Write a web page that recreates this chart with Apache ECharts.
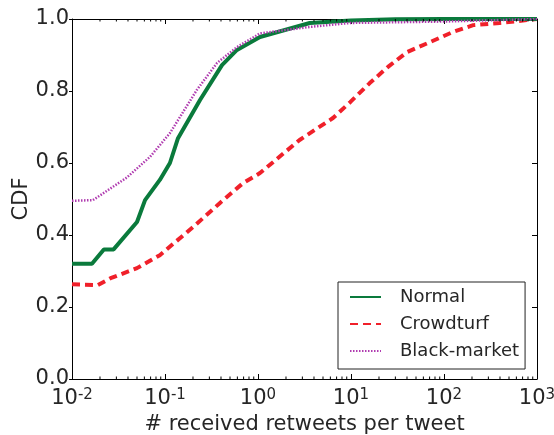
<!DOCTYPE html>
<html><head><meta charset="utf-8">
<script src="https://cdn.jsdelivr.net/npm/echarts@6/dist/echarts.min.js"></script>
<style>html,body{margin:0;padding:0;background:#fff}#c{width:554px;height:435px}</style>
</head><body><div id="c"></div>
<script>
var normalX = [0.01, 0.0164, 0.022, 0.028, 0.05, 0.061, 0.088, 0.113, 0.138, 0.238, 0.41, 0.594, 1.05, 3.6, 10, 30, 100, 1000];
var normalY = [0.32, 0.32, 0.36, 0.36, 0.436, 0.497, 0.553, 0.6, 0.669, 0.775, 0.872, 0.914, 0.95, 0.989, 0.996, 0.999, 1.0, 1.0];
var crowdX = [0.01, 0.019, 0.026, 0.05, 0.088, 0.2, 0.39, 0.69, 1.05, 2.8, 6.4, 9.8, 15.9, 25, 40, 71, 125, 206, 398, 776, 1000];
var crowdY = [0.263, 0.261, 0.28, 0.308, 0.344, 0.422, 0.489, 0.544, 0.572, 0.664, 0.725, 0.769, 0.822, 0.867, 0.908, 0.936, 0.964, 0.983, 0.989, 0.997, 1.0];
var blackX = [0.01, 0.0168, 0.019, 0.039, 0.069, 0.113, 0.22, 0.363, 0.594, 1.05, 3.6, 9.8, 100, 1000];
var blackY = [0.495, 0.497, 0.506, 0.56, 0.617, 0.683, 0.803, 0.878, 0.922, 0.96, 0.978, 0.989, 0.993, 1.0];
var seriesNames = ['Normal', 'Crowdturf', 'Black-market'];
var minorTicks = [];
[0.01, 0.1, 1, 10, 100].forEach(function (d) { for (var k = 2; k <= 9; k++) minorTicks.push(+(d * k).toPrecision(3)); });

function zip(xs, ys) { return xs.map(function (x, i) { return [x, ys[i]]; }); }
var FONT = 'DejaVu Sans';
var TXT = '#262626';
var chart = echarts.init(document.getElementById('c'), null, {renderer: 'canvas'});
var axLine = {show: true, onZero: false, lineStyle: {color: '#000', width: 1}};
chart.setOption({
  backgroundColor: '#fff',
  animation: false,
  textStyle: {fontFamily: FONT},
  grid: {left: 72, right: 17, top: 19, bottom: 56, containLabel: false, outerBoundsMode: 'none'},
  xAxis: [{
    type: 'log', logBase: 10, min: 0.01, max: 1000,
    name: '# received retweets per tweet', nameLocation: 'middle', nameGap: 26,
    nameTextStyle: {fontFamily: FONT, fontSize: 21, color: TXT},
    axisLine: axLine, axisTick: {inside: true, length: 5, lineStyle: {color: '#000'}},
    splitLine: {show: false},
    axisLabel: {margin: 9, color: TXT, formatter: function (v) {
      var e = Math.round(Math.log10(v)); return '{b|10}{s|' + e + '}'; },
      rich: {b: {fontFamily: FONT, fontSize: 21, color: TXT, lineHeight: 22},
             s: {fontFamily: FONT, fontSize: 15, color: TXT, verticalAlign: 'top', lineHeight: 15}}}
  }, {
    type: 'log', logBase: 10, min: 0.01, max: 1000, position: 'top',
    axisLine: axLine, axisTick: {inside: true, length: 5, lineStyle: {color: '#000'}},
    axisLabel: {show: false}, splitLine: {show: false}
  }],
  yAxis: [{
    type: 'value', min: 0, max: 1, interval: 0.2,
    name: 'CDF', nameLocation: 'middle', nameGap: 40, nameMoveOverlap: false,
    nameTextStyle: {fontFamily: FONT, fontSize: 21, color: TXT},
    axisLine: axLine, axisTick: {inside: false, length: 3, lineStyle: {color: '#000'}},
    splitLine: {show: false},
    axisLabel: {margin: 3, fontFamily: FONT, fontSize: 21, color: TXT, formatter: function (v) { return v.toFixed(1); }}
  }, {
    type: 'value', min: 0, max: 1, interval: 0.2, position: 'right',
    axisLine: axLine, axisTick: {inside: true, length: 5, lineStyle: {color: '#000'}},
    axisLabel: {show: false}, splitLine: {show: false}
  }],
  legend: {
    data: seriesNames, orient: 'vertical', left: 338, top: 282,
    borderColor: '#222', borderWidth: 1, borderRadius: 0, backgroundColor: '#fff',
    padding: [5, 6, 8, 11], itemGap: 7, itemWidth: 31, itemHeight: 14,
    itemStyle: {opacity: 0},
    textStyle: {fontFamily: FONT, fontSize: 18, lineHeight: 20, color: TXT, padding: [0, 0, 0, 14]}
  },
  series: [{
    name: 'Normal', type: 'line', data: zip(normalX, normalY), symbol: 'none', z: 3,
    lineStyle: {color: '#0a7a3c', width: 4}, itemStyle: {color: '#0a7a3c'}
  }, {
    name: 'Crowdturf', type: 'line', data: zip(crowdX, crowdY), symbol: 'none', z: 2,
    lineStyle: {color: '#f0202a', width: 4, type: [8, 5]}, itemStyle: {color: '#f0202a'}
  }, {
    name: 'Black-market', type: 'line', data: zip(blackX, blackY), symbol: 'none', z: 4,
    lineStyle: {color: '#b03cb0', width: 2.5, type: [1.5, 1.5]}, itemStyle: {color: '#b03cb0'}
  }, {
    name: 'minor', type: 'custom', data: minorTicks.map(function (v) { return [v]; }),
    encode: {x: 0}, clip: false, silent: true, z: 5,
    renderItem: function (params, api) {
      var b = api.coord([api.value(0), 0]);
      var t = api.coord([api.value(0), 1]);
      var st = {stroke: '#000', lineWidth: 1};
      return {type: 'group', children: [
        {type: 'line', shape: {x1: b[0], y1: b[1], x2: b[0], y2: b[1] - 2.5}, style: st},
        {type: 'line', shape: {x1: t[0], y1: t[1], x2: t[0], y2: t[1] + 2.5}, style: st}
      ]};
    }
  }]
});
</script></body></html>
